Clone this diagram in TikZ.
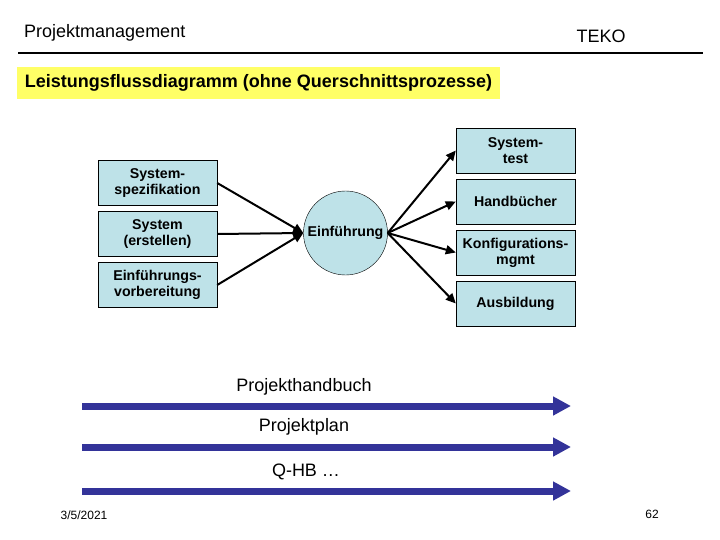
\documentclass[tikz,border=0pt]{standalone}
\usepackage{fontspec}
\setmainfont{Liberation Sans}
\usetikzlibrary{shapes,arrows.meta,positioning}

\definecolor{boxblue}{RGB}{190,226,232}
\definecolor{flowblue}{RGB}{51,51,153}
\definecolor{titleyellow}{RGB}{255,255,102}

\begin{document}
\begin{tikzpicture}[x=1pt, y=-1pt, node distance=51pt]
    % Styles
    \tikzstyle{block} = [rectangle, draw, fill=boxblue, minimum width=119pt, minimum height=45pt, text width=117pt, align=center, inner sep=0pt, font=\fontsize{14.2}{16}\selectfont\bfseries]
    \tikzstyle{hub} = [circle, draw, fill=boxblue, minimum size=84pt, inner sep=0pt, font=\fontsize{14.2}{16}\selectfont\bfseries]
    \tikzstyle{arrow} = [line width=2pt, -{Triangle[length=10pt,width=9pt]}]
    \tikzstyle{flow} = [flowblue, line width=7pt, -{Triangle[length=18pt,width=18pt]}]
    \tikzstyle{label} = [font=\fontsize{18}{20}\selectfont, inner sep=0pt]

    \useasboundingbox (0,0) rectangle (720,540);

    % Header
    \node [label, anchor=west] (head) at (24,33) {Projektmanagement};
    \node [label] (teko) at (601,36) {TEKO};
    \draw [line width=1.2pt] (18,53) -- (703,53);
    \node [label, fill=titleyellow, minimum width=483pt, minimum height=32pt, font=\fontsize{18}{20}\selectfont\bfseries] (title) at (258.5,83) {Leistungsflussdiagramm (ohne Querschnittsprozesse)};

    % Nodes
    \node [block] (spez) at (157.5,183) {System-\\spezifikation};
    \node [block, below of=spez] (erst) {System\\(erstellen)};
    \node [block, below of=erst] (vorb) {Einführungs-\\vorbereitung};
    \node [hub] (ein) at (345.5,233) {Einführung};
    \node [block] (test) at (515.5,150.5) {System-\\test};
    \node [block, below of=test] (hand) {Handbücher};
    \node [block, below of=hand] (konf) {Konfigurations-\\mgmt};
    \node [block, below of=konf] (ausb) {Ausbildung};

    % Arrows
    \draw [arrow] (spez.east) -- (ein.west);
    \draw [arrow] (erst.east) -- (ein.west);
    \draw [arrow] (vorb.east) -- (ein.west);
    \draw [arrow] (ein.east) -- (test.west);
    \draw [arrow] (ein.east) -- (hand.west);
    \draw [arrow] (ein.east) -- (konf.west);
    \draw [arrow] (ein.east) -- (ausb.west);

    % Documents
    \coordinate (hb1) at (82,406);  \coordinate (hb2) at (571,406);
    \coordinate (pp1) at (82,447);  \coordinate (pp2) at (571,447);
    \coordinate (qb1) at (82,491);  \coordinate (qb2) at (571,491);
    \node [label] (hb) at (304,387) {Projekthandbuch};
    \node [label] (pp) at (304,427) {Projektplan};
    \node [label] (qb) at (306,472) {Q-HB …};
    \draw [flow] (hb1) -- (hb2);
    \draw [flow] (pp1) -- (pp2);
    \draw [flow] (qb1) -- (qb2);

    % Footer
    \node [label, font=\fontsize{12}{14}\selectfont] (date) at (84,515) {3/5/2021};
    \node [label, font=\fontsize{12}{14}\selectfont] (page) at (652,514) {62};
\end{tikzpicture}
\end{document}
